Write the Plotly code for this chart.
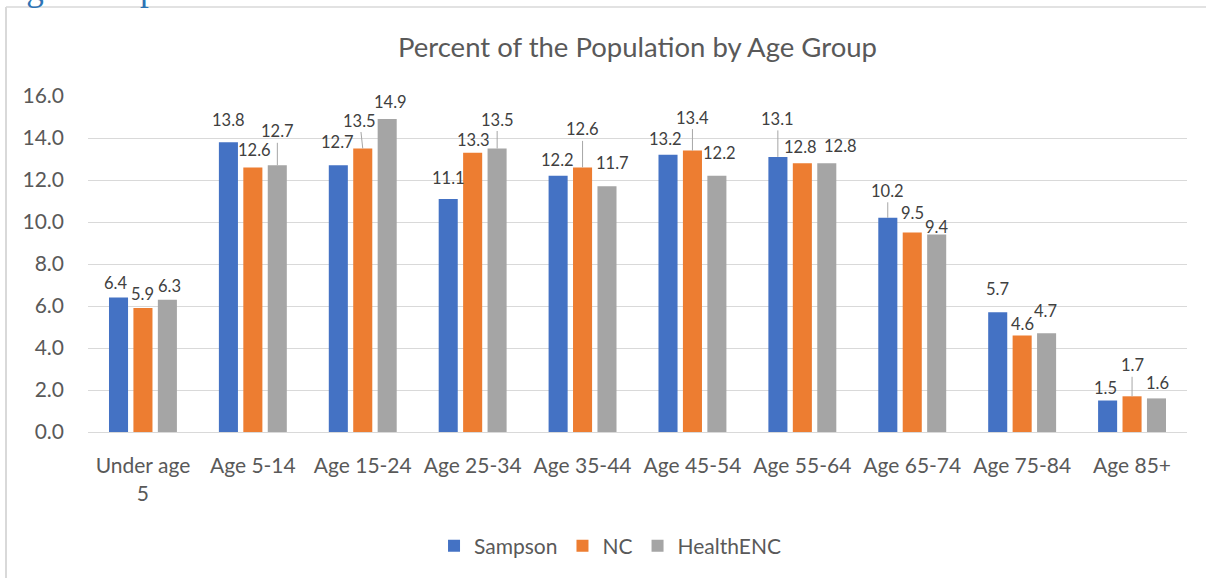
import plotly.graph_objects as go

# data
age_groups = ["Under age<br>5", "Age 5-14", "Age 15-24", "Age 25-34", "Age 35-44",
              "Age 45-54", "Age 55-64", "Age 65-74", "Age 75-84", "Age 85+"]
sampson = [6.4, 13.8, 12.7, 11.1, 12.2, 13.2, 13.1, 10.2, 5.7, 1.5]
nc = [5.9, 12.6, 13.5, 13.3, 12.6, 13.4, 12.8, 9.5, 4.6, 1.7]
health_enc = [6.3, 12.7, 14.9, 13.5, 11.7, 12.2, 12.8, 9.4, 4.7, 1.6]

series_names = ["Sampson", "NC", "HealthENC"]
series_values = [sampson, nc, health_enc]
series_colors = ["#4472C4", "#ED7D31", "#A5A5A5"]

# label placement (px): nudge right, lift above bar top, leader line?
label_dx = [
    [-3, 0, -1, 0, -1, -2, 0, 0, 0, -2],
    [0, 2, -3, 1, 0, 0, -2, 0, 0, 0],
    [2, 0, 3, 0, 5, 3, 14, 0, -1, 1],
]
label_dy = [
    [15, 22, 23, 21, 16, 16, 38, 27, 23, 13],
    [14, 17, 28, 13, 38, 33, 16, 20, 11, 31],
    [14, 34, 17, 29, 23, 23, 17, 8, 22, 15],
]
leader = [
    [0, 0, 0, 0, 0, 0, 1, 1, 0, 0],
    [0, 0, 1, 0, 1, 1, 0, 0, 0, 1],
    [0, 1, 0, 1, 0, 0, 0, 0, 0, 0],
]
series_shift = [-24.5, 0, 24.5]

FONT = "Lato"
W, H = 1206, 578
L, R, T, B = 88, 1187, 96, 432


def px_x(p):
    return (p - L) / (R - L)


def px_y(p):
    return (B - p) / (B - T)


fig = go.Figure()
for name, vals, color in zip(series_names, series_values, series_colors):
    fig.add_trace(go.Bar(x=age_groups, y=vals, name=name, marker_color=color,
                         marker_line_width=0))

# data labels
for i, vals in enumerate(series_values):
    for j, v in enumerate(vals):
        fig.add_annotation(
            x=age_groups[j], y=v, xref="x", yref="y",
            text=f"{v:.1f}",
            xshift=series_shift[i],
            showarrow=True, arrowhead=0, arrowwidth=1, standoff=0,
            arrowcolor="#a6a6a6" if leader[i][j] else "rgba(0,0,0,0)",
            ax=label_dx[i][j], ay=-label_dy[i][j],
            font=dict(family=FONT, size=16.5, color="#404040"),
        )

# cut-off document heading above the chart
fig.add_annotation(
    x=px_x(-1), y=px_y(10), xref="paper", yref="paper",
    xanchor="left", yanchor="bottom", showarrow=False,
    text="Age Groups",
    font=dict(family="Liberation Serif", size=35, color="#2E74B5"),
)

# chart frame
fig.add_shape(type="line", xref="paper", yref="paper",
              x0=px_x(6), x1=px_x(6), y0=px_y(7), y1=px_y(600),
              line=dict(color="#d9d9d9", width=2))
fig.add_shape(type="line", xref="paper", yref="paper",
              x0=px_x(6), x1=px_x(1230), y0=px_y(7), y1=px_y(7),
              line=dict(color="#d9d9d9", width=1.5))

fig.update_layout(
    width=W, height=H,
    margin=dict(l=L, r=W - R, t=T, b=H - B),
    paper_bgcolor="white", plot_bgcolor="white",
    barmode="group", bargap=0.333, bargroupgap=0.22,
    font=dict(family=FONT, color="#595959"),
    title=dict(text="Percent of the Population by Age Group",
               x=0.5, xref="paper", y=1 - 47 / H, yref="container",
               xanchor="center", yanchor="middle",
               font=dict(family=FONT, size=27.5, color="#595959")),
    legend=dict(orientation="h", x=0.475, xanchor="center",
                y=px_y(546), yanchor="middle",
                font=dict(family=FONT, size=21, color="#595959")),
    xaxis=dict(showgrid=False, showline=True, linecolor="#d9d9d9", linewidth=1,
               tickfont=dict(family=FONT, size=21, color="#595959"),
               ticklabelstandoff=15),
    yaxis=dict(range=[0, 16], dtick=2, tickformat=".1f",
               showgrid=True, gridcolor="#d9d9d9", gridwidth=1,
               zeroline=False, showline=False,
               tickfont=dict(family=FONT, size=21, color="#595959"),
               ticklabelstandoff=23),
)

# the page body has a default 8px margin; drop it so the chart sits at 0,0
fig.write_html("out.html", config={"displayModeBar": False},
               post_script="document.body.style.margin='0';")
